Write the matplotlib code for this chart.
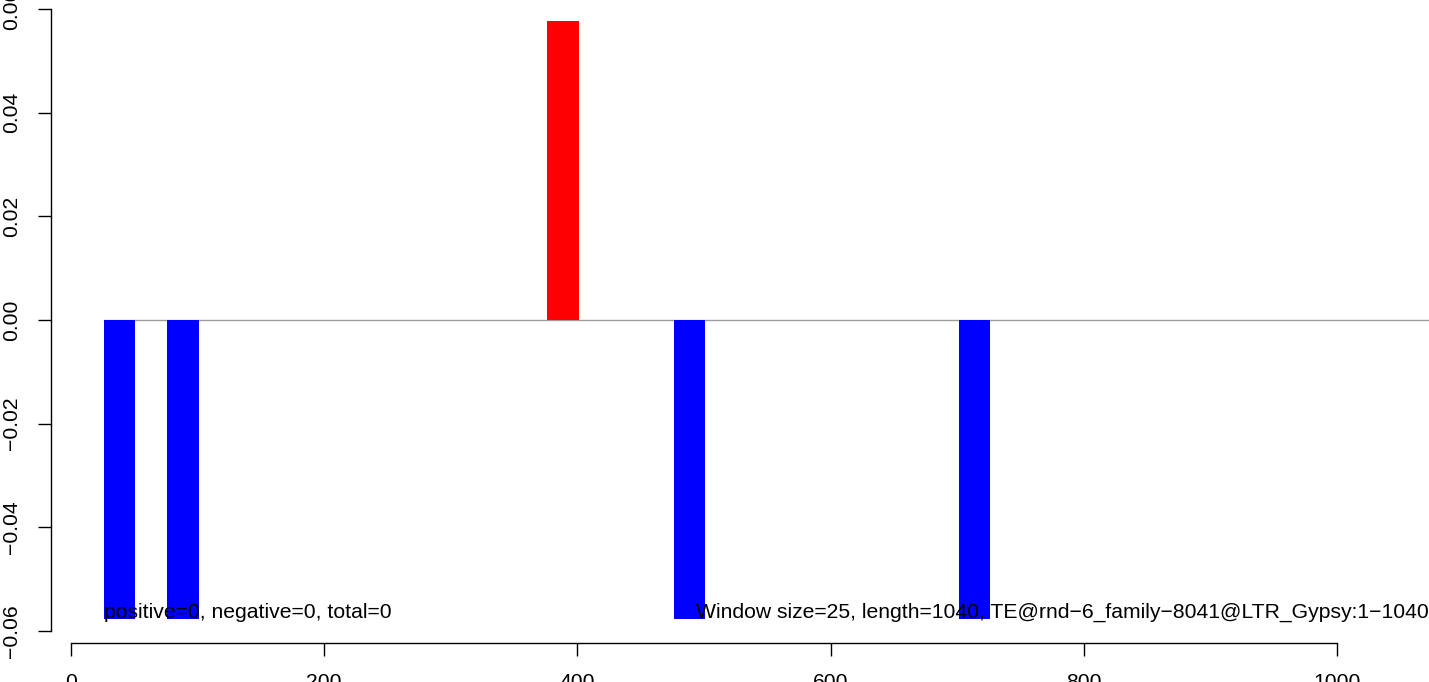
import matplotlib
matplotlib.use("Agg")
import matplotlib.pyplot as plt

plt.rcParams['font.family'] = ['Liberation Sans', 'DejaVu Sans']

# data
window = 25
pos_starts = [376]
pos_values = [0.0577]
neg_starts = [26, 76, 476, 701]
neg_values = [-0.0577, -0.0577, -0.0577, -0.0577]
x_ticks = [0, 200, 400, 600, 800, 1000]
y_ticks = [-0.06, -0.04, -0.02, 0.00, 0.02, 0.04, 0.06]
y_labels = ["\u22120.06", "\u22120.04", "\u22120.02", "0.00", "0.02", "0.04", "0.06"]
left_text = "positive=0, negative=0, total=0"
right_text = "Window size=25, length=1040, TE@rnd\u22126_family\u22128041@LTR_Gypsy:1\u22121040"

FS = 15.2
W, H = 1429, 682
fig = plt.figure(figsize=(W / 100, H / 100), dpi=100)
ax_left = 50.7 / W
ax_bottom = 39.3 / H
ax_top = (H + 2.7) / H
ax = fig.add_axes([ax_left, ax_bottom, 1.0 - ax_left, ax_top - ax_bottom])

xmin = (50.7 - 70.7) / 1.2665
xmax = (W - 70.7) / 1.2665
ax.set_xlim(xmin, xmax)
ax.set_ylim(-0.0623, 0.0623)

ax.plot([26, 1200], [0, 0], color='#9e9e9e', lw=1.0, zorder=1, clip_on=True)
ax.bar(pos_starts, pos_values, width=window, align='edge', color='#ff0000', lw=0, zorder=2)
ax.bar(neg_starts, neg_values, width=window, align='edge', color='#0000ff', lw=0, zorder=2)

ax.text(26, -0.0575, left_text, ha='left', va='baseline', fontsize=FS, color='black', zorder=3)
ax.text(xmax, -0.0575, right_text, ha='right', va='baseline', fontsize=FS, color='black', zorder=3)

for s in ['top', 'right']:
    ax.spines[s].set_visible(False)
ax.spines['left'].set_bounds(-0.06, 0.06)
ax.spines['bottom'].set_bounds(0, 1000)
for s in ['left', 'bottom']:
    ax.spines[s].set_linewidth(1.0)

ax.set_xticks(x_ticks)
ax.set_xticklabels([str(v) for v in x_ticks])
ax.set_yticks(y_ticks)
ax.set_yticklabels(y_labels, rotation=90, va='center')
ax.tick_params(axis='x', length=9, width=1.0, pad=13, labelsize=FS)
ax.tick_params(axis='y', length=9.5, width=1.0, pad=12, labelsize=FS)

fig.savefig('out.png', dpi=100)
